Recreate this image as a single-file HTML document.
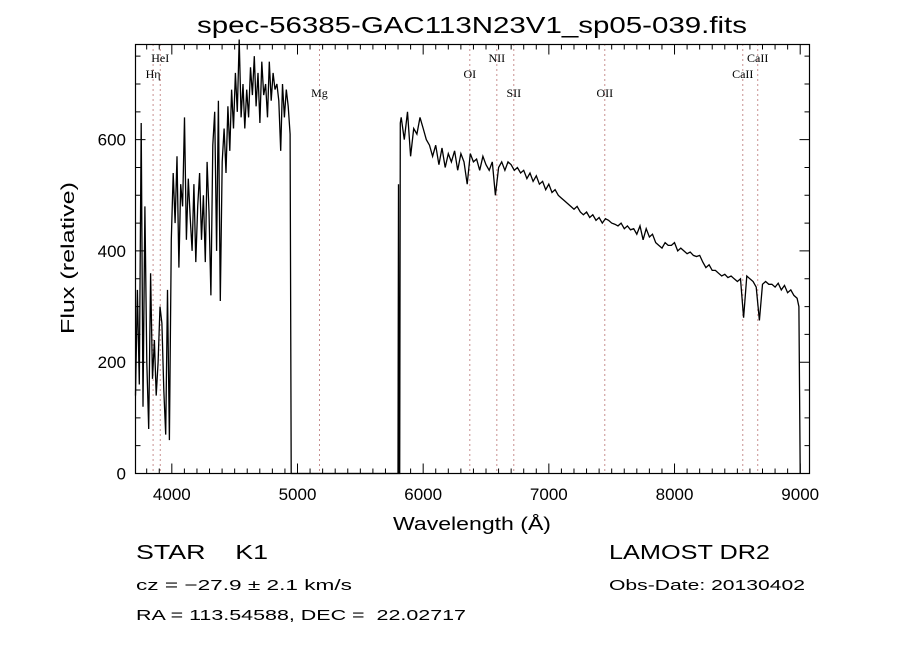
<!DOCTYPE html>
<html><head><meta charset="utf-8"><style>
html,body{margin:0;padding:0;background:#fff;}
svg{display:block;}
text{font-family:"Liberation Sans",sans-serif;fill:#000;white-space:pre;}
.lbl{font-family:"Liberation Serif",serif;font-size:12px;}
</style></head><body>
<svg id="chart" width="900" height="650" xmlns="http://www.w3.org/2000/svg" xml:space="preserve">
<text x="472" y="33" text-anchor="middle" font-size="23" textLength="550" lengthAdjust="spacingAndGlyphs">spec-56385-GAC113N23V1_sp05-039.fits</text>
<g id="lines"></g>
<g id="ticks"></g>
<path id="spec" fill="none" stroke="#000" stroke-width="1.3"/>
<rect x="135.5" y="44.5" width="674" height="429" fill="none" stroke="#000" stroke-width="1.2"/>
<text x="472" y="530" text-anchor="middle" font-size="18" textLength="158" lengthAdjust="spacingAndGlyphs">Wavelength (Å)</text>
<text transform="translate(74,258) rotate(-90)" text-anchor="middle" font-size="18" textLength="152" lengthAdjust="spacingAndGlyphs">Flux (relative)</text>
<text x="136" y="559" font-size="20" textLength="132" lengthAdjust="spacingAndGlyphs">STAR    K1</text>
<text x="136" y="590" font-size="15" textLength="216" lengthAdjust="spacingAndGlyphs">cz = −27.9 ± 2.1 km/s</text>
<text x="136" y="620" font-size="15" textLength="330" lengthAdjust="spacingAndGlyphs">RA = 113.54588, DEC =  22.02717</text>
<text x="609" y="559" font-size="20" textLength="161" lengthAdjust="spacingAndGlyphs">LAMOST DR2</text>
<text x="609" y="590" font-size="15" textLength="196" lengthAdjust="spacingAndGlyphs">Obs-Date: 20130402</text>
</svg>
<script>
const xTicks=[4000,5000,6000,7000,8000,9000];
const yTicks=[0,200,400,600];
const lineNames=["Hη","HeI","Mg","OI","NII","SII","OII","CaII","CaII"];
const lineWl=[3851,3908,5175,6371,6586,6721,7445,8543,8662];
const lineRow=[1,0,2,1,0,2,2,1,0];
const blueStart=3711, blueStep=15;
const blueFlux=[140,330,160,630,120,480,200,80,360,170,240,140,200,300,270,150,70,330,60,420,540,450,570,370,520,480,640,420,530,460,400,520,380,480,540,420,500,380,560,470,320,590,650,400,670,310,560,620,540,660,580,690,620,720,650,780,640,700,620,690,640,730,680,750,660,720,630,740,680,700,640,740,670,720,690,700,670,580,700,640,690,660,610];
const gapWl=[4950,4952,5795,5800,5804,5808,5813,5818];
const gapFlux=[0,0,0,0,520,0,0,630];
const redStart=5825, redStep=25;
const redFlux=[640,600,650,570,620,610,640,620,600,590,570,590,555,585,550,575,560,580,545,575,560,520,575,560,565,545,570,555,545,560,500,550,560,545,560,555,545,550,540,545,530,540,525,535,520,525,510,520,505,510,500,495,490,485,480,475,480,470,465,470,460,465,455,460,450,458,455,450,448,445,450,440,445,438,440,430,445,420,440,425,430,415,410,405,415,410,410,415,400,405,400,395,398,392,390,392,380,370,375,365,365,360,355,358,352,355,350,345,350,280,355,350,345,335,275,340,345,340,340,335,342,330,338,325,330,320,315];
const endWl=[8990,9000];
const endFlux=[300,0];

const X0=135.5,X1=809.5,Y0=473.5,Y1=44.5,WMIN=3711,WMAX=9074,FMAX=771;
const sx=w=>X0+(w-WMIN)/(WMAX-WMIN)*(X1-X0);
const sy=f=>Y0-f/FMAX*(Y0-Y1);
const NS="http://www.w3.org/2000/svg";
function mk(tag,attrs,parent){const e=document.createElementNS(NS,tag);for(const k in attrs)e.setAttribute(k,attrs[k]);parent.appendChild(e);return e;}

const pts=[];
blueFlux.forEach((f,i)=>pts.push([blueStart+i*blueStep,f]));
gapWl.forEach((w,i)=>pts.push([w,gapFlux[i]]));
redFlux.forEach((f,i)=>pts.push([redStart+i*redStep,f]));
endWl.forEach((w,i)=>pts.push([w,endFlux[i]]));
document.getElementById('spec').setAttribute('d',pts.map((p,i)=>(i?'L':'M')+sx(p[0]).toFixed(1)+','+sy(p[1]).toFixed(1)).join(''));

const tg=document.getElementById('ticks');
let d='';
for(let w=3800;w<=9000;w+=100){const x=sx(w),L=(w%1000===0)?10:5;d+=`M${x},${Y0}v${-L}M${x},${Y1}v${L}`;}
for(let f=0;f<=750;f+=50){const y=sy(f),L=(f%200===0)?10:5;d+=`M${X0},${y}h${L}M${X1},${y}h${-L}`;}
mk('path',{d:d,stroke:'#000','stroke-width':1,fill:'none'},tg);
xTicks.forEach(w=>{const t=mk('text',{x:sx(w),y:500,'text-anchor':'middle','font-size':17},tg);


t.textContent=w;});
yTicks.forEach(f=>{const t=mk('text',{x:126,y:sy(f)+6,'text-anchor':'end','font-size':17},tg);


t.textContent=f;});

const lg=document.getElementById('lines');
const rowY=[62,78,97];
lineWl.forEach((w,i)=>{const x=sx(w);
const l=mk('line',{x1:x,x2:x,y1:Y1,y2:Y0,stroke:'#902020','stroke-width':1,'stroke-dasharray':'1,4'},lg);


const t=mk('text',{x:x,y:rowY[lineRow[i]],'text-anchor':'middle',class:'lbl'},lg);


t.textContent=lineNames[i];});
</script>
</body></html>
